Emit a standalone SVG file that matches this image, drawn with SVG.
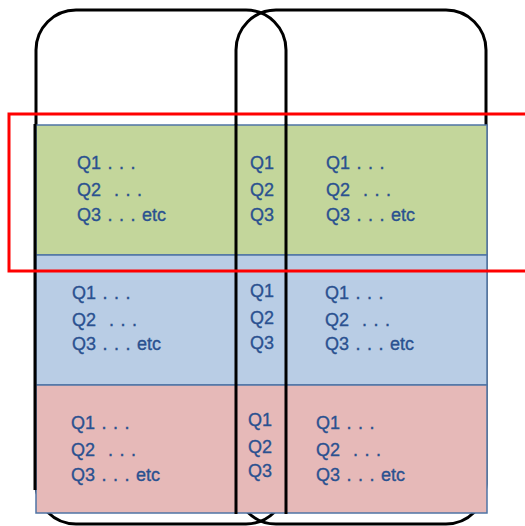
<svg xmlns="http://www.w3.org/2000/svg" width="525" height="526" viewBox="0 0 525 526">
<style>
.outline{fill:none;stroke:#000;stroke-width:3}
.band{stroke:#4f74a5;stroke-width:1.5}
.green{fill:#c3d69b}
.blue{fill:#b9cde5}
.pink{fill:#e6b9b8}
.sep{stroke:#000;stroke-width:3}
text{font-family:"Liberation Sans",Arial,sans-serif;font-size:18px;fill:#2a5190;stroke:#2a5190;stroke-width:0.35;white-space:pre;word-spacing:1.5px}
.red{fill:none;stroke:#ff0000;stroke-width:3}
</style>
<rect width="525" height="526" fill="#fff"/>
<g id="container-left"><rect class="outline" x="36" y="10" width="250" height="514" rx="40" ry="40"/></g>
<g id="container-right"><rect class="outline" x="236" y="10" width="250" height="514" rx="40" ry="40"/></g>
<g id="band-green">
<rect class="band green" x="36" y="125" width="451" height="130"/>
<text x="77" y="169" xml:space="preserve">Q1 . . .</text>
<text x="77" y="196" xml:space="preserve">Q2  . . .</text>
<text x="77" y="221" xml:space="preserve">Q3 . . . etc</text>
<text x="250" y="169">Q1</text>
<text x="250" y="196">Q2</text>
<text x="250" y="221">Q3</text>
<text x="326" y="169" xml:space="preserve">Q1 . . .</text>
<text x="326" y="196" xml:space="preserve">Q2  . . .</text>
<text x="326" y="221" xml:space="preserve">Q3 . . . etc</text>
</g>
<g id="band-blue">
<rect class="band blue" x="36" y="255" width="451" height="130"/>
<text x="72" y="299" xml:space="preserve">Q1 . . .</text>
<text x="72" y="326" xml:space="preserve">Q2  . . .</text>
<text x="72" y="350" xml:space="preserve">Q3 . . . etc</text>
<text x="250" y="297">Q1</text>
<text x="250" y="324">Q2</text>
<text x="250" y="349">Q3</text>
<text x="325" y="299" xml:space="preserve">Q1 . . .</text>
<text x="325" y="326" xml:space="preserve">Q2  . . .</text>
<text x="325" y="350" xml:space="preserve">Q3 . . . etc</text>
</g>
<g id="band-pink">
<rect class="band pink" x="36" y="385" width="451" height="128"/>
<text x="71" y="429" xml:space="preserve">Q1 . . .</text>
<text x="71" y="456" xml:space="preserve">Q2  . . .</text>
<text x="71" y="481" xml:space="preserve">Q3 . . . etc</text>
<text x="248" y="426">Q1</text>
<text x="248" y="453">Q2</text>
<text x="248" y="477">Q3</text>
<text x="316" y="429" xml:space="preserve">Q1 . . .</text>
<text x="316" y="456" xml:space="preserve">Q2  . . .</text>
<text x="316" y="481" xml:space="preserve">Q3 . . . etc</text>
</g>
<g id="connectors">
<line class="sep" x1="236" y1="124" x2="236" y2="514"/>
<line class="sep" x1="286" y1="124" x2="286" y2="514"/>
<line class="sep" x1="35" y1="124" x2="35" y2="490"/>
</g>
<g id="highlight"><rect class="red" x="9" y="114" width="530" height="157"/></g>
</svg>
